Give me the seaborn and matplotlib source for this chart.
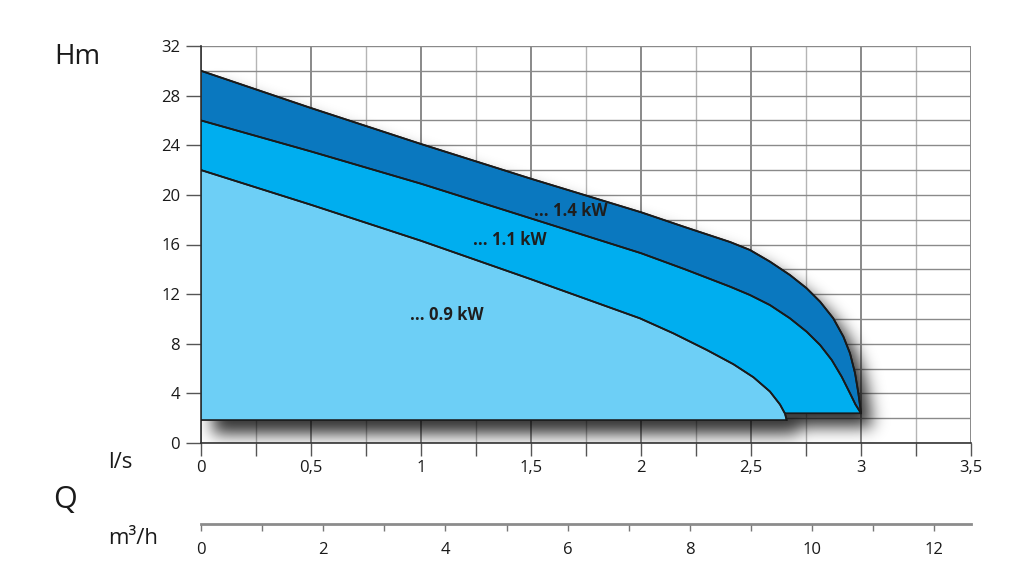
import numpy as np
import matplotlib
matplotlib.use("Agg")
import matplotlib.pyplot as plt
import seaborn as sns
from matplotlib.path import Path
from matplotlib.ticker import MultipleLocator

# ==============================
# DATA (Q in l/s, H in m)
# ==============================
q_14 = [0, 0.5, 1.0, 1.5, 2.0, 2.2, 2.405, 2.495, 2.586, 2.677, 2.753, 2.814, 2.874, 2.92, 2.95, 2.973, 2.988, 3.0]
h_14 = [30, 27.0, 24.1, 21.3, 18.6, 17.4, 16.2, 15.56, 14.62, 13.54, 12.47, 11.39, 10.05, 8.57, 7.23, 5.62, 4.01, 2.4]

q_11 = [0, 0.5, 1.0, 1.5, 2.0, 2.2, 2.405, 2.495, 2.586, 2.677, 2.753, 2.814, 2.867, 2.912, 2.95, 2.975, 3.0]
h_11 = [26, 23.5, 20.9, 18.1, 15.3, 14.0, 12.6, 11.93, 11.12, 10.05, 8.97, 7.9, 6.69, 5.35, 4.01, 3.1, 2.4]

q_09 = [0, 0.5, 1.0, 1.5, 1.995, 2.147, 2.299, 2.42, 2.511, 2.586, 2.632, 2.655, 2.662]
h_09 = [22, 19.2, 16.3, 13.2, 10.05, 8.84, 7.5, 6.35, 5.3, 4.15, 3.1, 2.35, 1.85]

base_low = 1.85   # bottom of the 0.9 kW area
base_high = 2.4   # bottom of the 1.1 / 1.4 kW areas

labels = ["... 1.4 kW", "... 1.1 kW", "... 0.9 kW"]
label_pos = [(1.68, 18.7), (1.405, 16.4), (1.118, 10.3)]

ls_ticks = [0, 0.5, 1, 1.5, 2, 2.5, 3, 3.5]
ls_labels = ["0", "0,5", "1", "1,5", "2", "2,5", "3", "3,5"]
m3h_ticks = [0, 2, 4, 6, 8, 10, 12]
h_ticks = [0, 4, 8, 12, 16, 20, 24, 28, 32]

colors = ["#0a78bf", "#00aeef", "#6dcff6"]

# ==============================
# FIGURE
# ==============================
sns.set_theme(style="white")
plt.rcParams['font.family'] = ['Open Sans', 'DejaVu Sans']

fig = plt.figure(figsize=(10.24, 5.87), dpi=100)
ax = fig.add_axes([201 / 1024, 144 / 587, 770 / 1024, 397 / 587])

# grid
ax.xaxis.set_major_locator(MultipleLocator(0.5))
ax.xaxis.set_minor_locator(MultipleLocator(0.25))
ax.yaxis.set_major_locator(MultipleLocator(4))
ax.yaxis.set_minor_locator(MultipleLocator(2))
ax.grid(which='major', axis='x', color='#6a6a6a', lw=1.1, zorder=0)
ax.grid(which='minor', axis='x', color='#b5b5b5', lw=1.0, zorder=0)
ax.grid(which='both', axis='y', color='#8a8a8a', lw=1.0, zorder=0)
ax.set_axisbelow(True)

# drop shadow (blurred, offset) of the whole curve area
W, H = 770, 397
xs = np.linspace(0, 3.5, W)
ys = np.linspace(0, 32, H)
gx, gy = np.meshgrid(xs, ys)
outline = list(zip(q_14, h_14)) + [(q_09[-1], base_high), (q_09[-1], base_low), (0, base_low)]
path = Path(outline)
dx, dy = 12 / 220, 14 / 12.4
mask = path.contains_points(np.column_stack([(gx - dx).ravel(), (gy + dy).ravel()]))
mask = mask.reshape(H, W).astype(float)
sig = 8
k = np.exp(-0.5 * (np.arange(-3 * sig, 3 * sig + 1) / sig) ** 2)
k /= k.sum()
blur = np.apply_along_axis(lambda r: np.convolve(r, k, mode='same'), 1, mask)
blur = np.apply_along_axis(lambda c: np.convolve(c, k, mode='same'), 0, blur)
rgba = np.zeros((H, W, 4))
rgba[..., 3] = np.clip(blur * 0.8, 0, 0.75)
ax.imshow(rgba, extent=[0, 3.5, 0, 32], origin='lower', aspect='auto', zorder=1)

# filled curve areas
ax.fill(q_14 + [0], h_14 + [base_high], color=colors[0], ec='#1a1a1a', lw=1.2, zorder=2)
ax.fill(q_11 + [0], h_11 + [base_high], color=colors[1], ec='#1a1a1a', lw=1.2, zorder=3)
ax.fill(q_09 + [0], h_09 + [base_low], color=colors[2], ec='#1a1a1a', lw=1.2, zorder=4)
for q, h in [(q_14, h_14), (q_11, h_11), (q_09, h_09)]:
    sns.lineplot(x=q, y=h, ax=ax, color='#1a1a1a', lw=1.3, sort=False, estimator=None, zorder=5)

for txt, (x, y) in zip(labels, label_pos):
    ax.text(x, y, txt, ha='center', va='center', fontsize=12, fontweight='bold',
            color='#1e1e1e', zorder=6)

ax.set_xlim(0, 3.5)
ax.set_ylim(0, 32)

# axes look
for s in ['top', 'right']:
    ax.spines[s].set_visible(False)
for s in ['left', 'bottom']:
    ax.spines[s].set_color('#333333')
    ax.spines[s].set_linewidth(1.2)

ax.set_xticks(ls_ticks)
ax.set_xticklabels(ls_labels)
ax.set_yticks(h_ticks)
ax.tick_params(axis='x', which='both', direction='out', length=9, width=1, color='#555555',
               bottom=True, labelsize=12, pad=3, labelcolor='#1a1a1a')
ax.tick_params(axis='y', which='major', direction='out', length=11, width=1, color='#555555',
               left=True, labelsize=12, pad=4, labelcolor='#1a1a1a')
ax.tick_params(axis='y', which='minor', length=0)
ax.set_xlabel('')
ax.set_ylabel('')

# m3/h scale
ax2 = fig.add_axes([201 / 1024, 63 / 587, 770 / 1024, 0.0005])
ax2.set_xlim(0, 3.5 * 3.6)
ax2.set_yticks([])
for s in ['top', 'right', 'left']:
    ax2.spines[s].set_visible(False)
ax2.spines['bottom'].set_color('#8c8c8c')
ax2.spines['bottom'].set_linewidth(2)
ax2.set_xticks(m3h_ticks)
ax2.xaxis.set_minor_locator(MultipleLocator(1))
ax2.tick_params(axis='x', which='both', direction='out', length=5, width=1, color='#777777',
                bottom=True, labelsize=12, pad=8, labelcolor='#1a1a1a')
ax2.patch.set_alpha(0)

# axis titles
fig.text(77 / 1024, 1 - 57 / 587, 'Hm', ha='center', va='center', fontsize=20, color='#1a1a1a')
fig.text(120 / 1024, 1 - 463 / 587, 'l/s', ha='center', va='center', fontsize=16, color='#1a1a1a')
fig.text(65 / 1024, 1 - 500 / 587, 'Q', ha='center', va='center', fontsize=22, color='#1a1a1a')
fig.text(133 / 1024, 1 - 538 / 587, 'm³/h', ha='center', va='center', fontsize=16, color='#1a1a1a')

fig.savefig('out.png', dpi=100)
